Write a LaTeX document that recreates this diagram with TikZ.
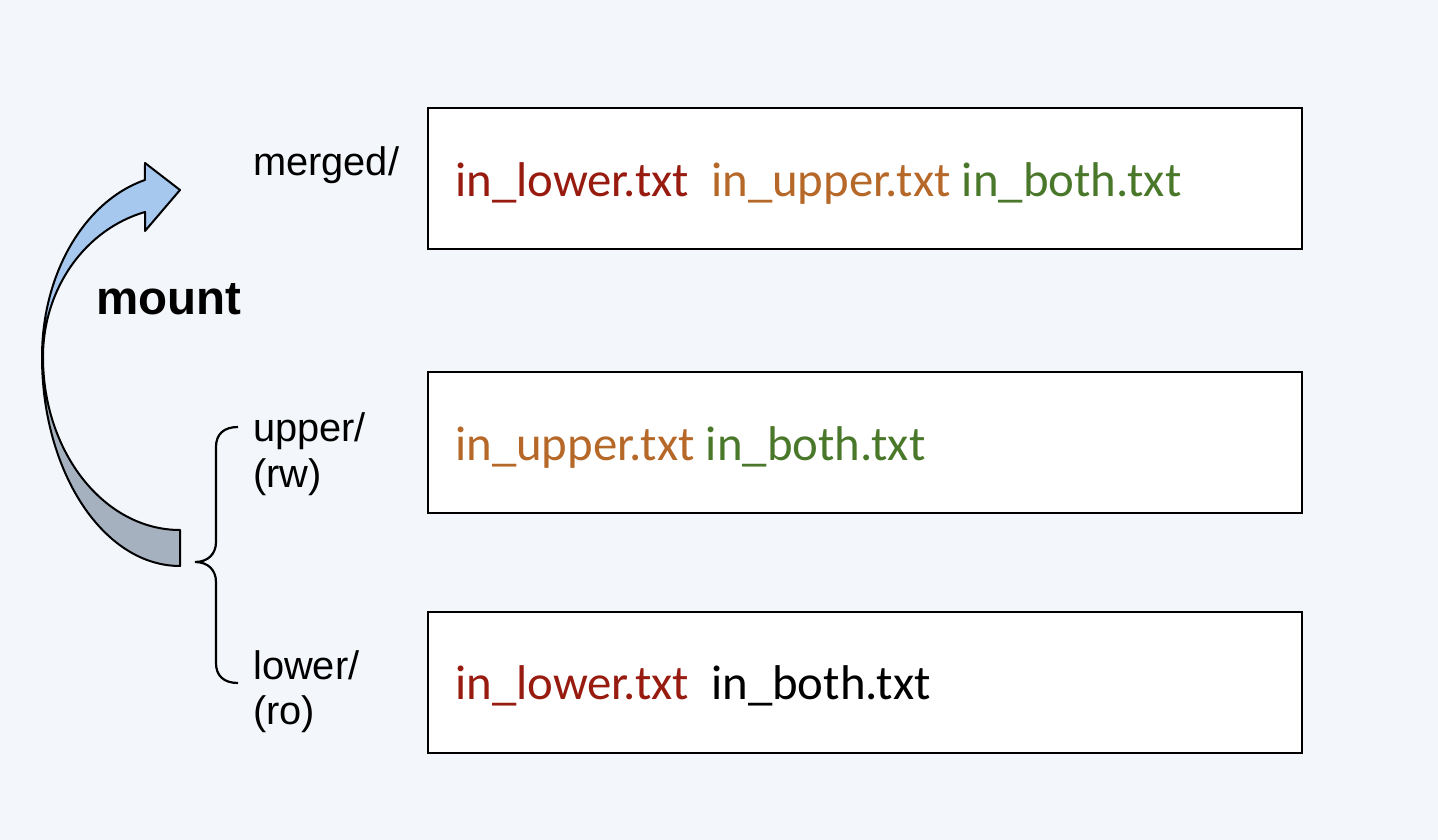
\documentclass[tikz,border=0pt]{standalone}
\usepackage{fontspec}
\setmainfont{Liberation Sans}
\newfontfamily\boxfont{Carlito}
\begin{document}
\definecolor{bgc}{RGB}{243,247,252}
\definecolor{cred}{RGB}{152,27,16}
\definecolor{corange}{RGB}{182,104,40}
\definecolor{cgreen}{RGB}{74,120,42}
\definecolor{ablue}{RGB}{166,200,238}
\definecolor{agray}{RGB}{166,177,192}
\begin{tikzpicture}[x=1pt,y=1pt,
  filebox/.style={draw=black,line width=2pt,fill=white,minimum width=874pt,minimum height=141pt,inner sep=0pt},
  filetext/.style={anchor=base west,inner sep=0pt,font=\boxfont\fontsize{48.8}{56}\selectfont},
  dirlabel/.style={anchor=base west,inner sep=0pt,font=\fontsize{39.8}{46}\selectfont},
  outline/.style={draw=black,line width=2pt,line join=round}]
\fill[bgc] (0,0) rectangle (1438,840);
\useasboundingbox (0,0) rectangle (1438,840);
% boxes
\node[filebox] (merged) at (865,661.5) {};
\node[filebox] (upper) at (865,397) {};
\node[filebox] (lower) at (865,157) {};
% box texts
\node[filetext] (mt) at (455,643) {\textcolor{cred}{in\_lower.txt}\ \ \textcolor{corange}{in\_upper.txt} \textcolor{cgreen}{in\_both.txt}};
\node[filetext] (ut) at (455,379) {\textcolor{corange}{in\_upper.txt} \textcolor{cgreen}{in\_both.txt}};
\node[filetext] (lt) at (455,140) {\textcolor{cred}{in\_lower.txt}\ \ \textcolor{black}{in\_both.txt}};
% labels
\node[dirlabel] (ml) at (253,664) {merged/};
\node[dirlabel] (ul1) at (253,398) {upper/};
\node[dirlabel] (ul2) at (253,352) {(rw)};
\node[dirlabel] (ll1) at (253,160) {lower/};
\node[dirlabel] (ll2) at (253,115) {(ro)};
\node[anchor=base west,inner sep=0pt,font=\bfseries\fontsize{47.5}{56}\selectfont] (mount) at (96,525) {mount};
% curved arrow: back (gray) part
\path[outline,fill=agray] (42,483) arc[start angle=180,end angle=270,x radius=138,y radius=209]
  -- (180,310) arc[start angle=270,end angle=180,x radius=137,y radius=173] -- cycle;
% front (blue) part with head
\path[outline,fill=ablue] (42,483) arc[start angle=180,end angle=104.7,x radius=138,y radius=183]
  -- (145,677) -- (180,650) -- (145,609) -- (145,628)
  arc[start angle=104.8,end angle=180,x radius=137,y radius=150] -- cycle;
% brace
\coordinate (bt) at (238,413);
\coordinate (bb) at (238,157);
\coordinate (tip) at (195,278);
\draw[line width=2.2pt] (bt) .. controls (224,413) and (216,406) .. (216,393) -- (216,298)
  .. controls (216,286) and (208,278) .. (tip)
  .. controls (208,278) and (216,270) .. (216,258) -- (216,177)
  .. controls (216,164) and (224,157) .. (bb);
\end{tikzpicture}
\end{document}
